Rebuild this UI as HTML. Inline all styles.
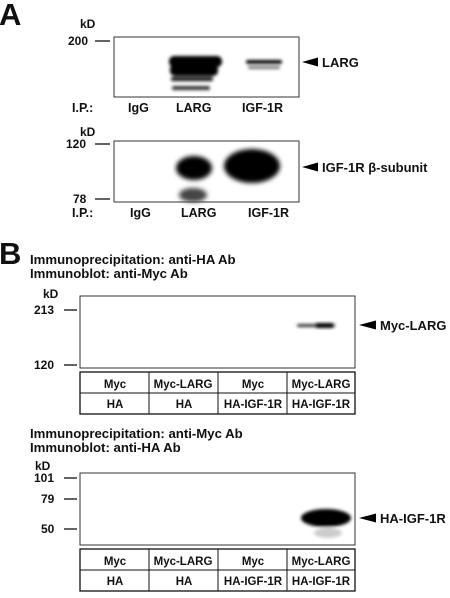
<!DOCTYPE html>
<html><head><meta charset="utf-8"><style>
body{margin:0;background:#fff;width:450px;height:593px;overflow:hidden}
svg text{font-family:"Liberation Sans",sans-serif;font-weight:bold;fill:#111}
</style></head><body>
<svg width="450" height="593" viewBox="0 0 450 593">
<defs>
<filter id="b1" x="-50%" y="-50%" width="200%" height="200%"><feGaussianBlur stdDeviation="1.5"/></filter>
<filter id="b2" x="-50%" y="-50%" width="200%" height="200%"><feGaussianBlur stdDeviation="2.5"/></filter>
</defs>
<text x="-1" y="25" font-size="31">A</text>
<g>
<text x="80" y="28" font-size="12">kD</text>
<text x="68" y="45" font-size="12">200</text>
<line x1="95" y1="41" x2="110" y2="41" stroke="#111" stroke-width="1.3"/>
<rect x="114" y="37" width="185" height="60" fill="#fff" stroke="#333" stroke-width="1"/>
<g filter="url(#b1)">
<rect x="169" y="56" width="53" height="11" rx="5" fill="#000"/>
<rect x="170" y="64" width="48" height="12" rx="5" fill="#000"/>
<rect x="171" y="77" width="42" height="4" rx="2" fill="#111"/>
<rect x="172" y="86" width="38" height="4" rx="2" fill="#333"/>
<rect x="246" y="60" width="36" height="4" rx="2" fill="#000"/>
<rect x="248" y="66" width="32" height="3" rx="1" fill="#777"/>
</g>
<polygon points="302,62 318,57.5 318,66.5" fill="#000"/>
<text x="322" y="67" font-size="13">LARG</text>
<text x="72" y="112" font-size="12.5">I.P.:</text>
<text x="128" y="112" font-size="12.5">IgG</text>
<text x="176" y="112" font-size="12.5">LARG</text>
<text x="242" y="112" font-size="12.5">IGF-1R</text>
</g>
<g>
<text x="80" y="136" font-size="12">kD</text>
<text x="66" y="148" font-size="12">120</text>
<line x1="95" y1="144" x2="110" y2="144" stroke="#111" stroke-width="1.3"/>
<text x="73" y="203" font-size="12">78</text>
<line x1="95" y1="199" x2="110" y2="199" stroke="#111" stroke-width="1.3"/>
<rect x="114" y="141" width="185" height="61" fill="#fff" stroke="#333" stroke-width="1"/>
<g filter="url(#b2)">
<ellipse cx="194" cy="168" rx="18" ry="12" fill="#000"/>
<ellipse cx="193" cy="195" rx="14" ry="7" fill="#444"/>
<ellipse cx="252" cy="166" rx="28" ry="17" fill="#000"/>
</g>
<polygon points="302,167 318,162.5 318,171.5" fill="#000"/>
<text x="322" y="172" font-size="13">IGF-1R β-subunit</text>
<text x="72" y="217" font-size="12.5">I.P.:</text>
<text x="130" y="217" font-size="12.5">IgG</text>
<text x="181" y="217" font-size="12.5">LARG</text>
<text x="248" y="217" font-size="12.5">IGF-1R</text>
</g>
<text x="-1" y="264" font-size="31">B</text>
<g>
<text x="30" y="264" font-size="13.2">Immunoprecipitation: anti-HA Ab</text>
<text x="30" y="278" font-size="13.2">Immunoblot: anti-Myc Ab</text>
<text x="43" y="298" font-size="12">kD</text>
<text x="34" y="314" font-size="12">213</text>
<line x1="64" y1="310" x2="77" y2="310" stroke="#111" stroke-width="1.3"/>
<text x="34" y="369" font-size="12">120</text>
<line x1="64" y1="365" x2="77" y2="365" stroke="#111" stroke-width="1.3"/>
<rect x="80" y="296" width="275" height="72" fill="#fff" stroke="#333" stroke-width="1"/>
<g filter="url(#b1)">
<rect x="297" y="324" width="38" height="3" rx="1.5" fill="#333"/>
<rect x="315" y="323" width="19" height="5" rx="2.5" fill="#000"/>
</g>
<polygon points="359,325 376,320.5 376,329.5" fill="#000"/>
<text x="380" y="330" font-size="13">Myc-LARG</text>
</g>
<g>
<rect x="80" y="372" width="275" height="42" fill="none" stroke="#111" stroke-width="1.3"/>
<line x1="80" y1="393" x2="355" y2="393" stroke="#111" stroke-width="1"/>
<line x1="149" y1="372" x2="149" y2="414" stroke="#111"/>
<line x1="218" y1="372" x2="218" y2="414" stroke="#111"/>
<line x1="287" y1="372" x2="287" y2="414" stroke="#111"/>
<text x="115" y="388" font-size="11.5" text-anchor="middle">Myc</text>
<text x="183" y="388" font-size="11.5" text-anchor="middle">Myc-LARG</text>
<text x="253" y="388" font-size="11.5" text-anchor="middle">Myc</text>
<text x="321" y="388" font-size="11.5" text-anchor="middle">Myc-LARG</text>
<text x="115" y="408" font-size="11.5" text-anchor="middle">HA</text>
<text x="184" y="408" font-size="11.5" text-anchor="middle">HA</text>
<text x="253" y="408" font-size="11.5" text-anchor="middle">HA-IGF-1R</text>
<text x="321" y="408" font-size="11.5" text-anchor="middle">HA-IGF-1R</text>
</g>
<g>
<text x="30" y="438" font-size="13.2">Immunoprecipitation: anti-Myc Ab</text>
<text x="30" y="452" font-size="13.2">Immunoblot: anti-HA Ab</text>
<text x="35" y="470" font-size="12">kD</text>
<text x="34" y="482" font-size="12">101</text>
<line x1="64" y1="478" x2="77" y2="478" stroke="#111" stroke-width="1.3"/>
<text x="41" y="503" font-size="12">79</text>
<line x1="64" y1="499" x2="77" y2="499" stroke="#111" stroke-width="1.3"/>
<text x="41" y="533" font-size="12">50</text>
<line x1="64" y1="529" x2="77" y2="529" stroke="#111" stroke-width="1.3"/>
<rect x="80" y="473" width="275" height="72" fill="#fff" stroke="#333" stroke-width="1"/>
<g filter="url(#b1)">
<ellipse cx="326" cy="518" rx="25" ry="9" fill="#000"/>
<ellipse cx="328" cy="533" rx="14" ry="5" fill="#ccc"/>
</g>
<polygon points="359,518 376,513.5 376,522.5" fill="#000"/>
<text x="380" y="523" font-size="13">HA-IGF-1R</text>
</g>
<g>
<rect x="80" y="549" width="275" height="42" fill="none" stroke="#111" stroke-width="1.3"/>
<line x1="80" y1="570" x2="355" y2="570" stroke="#111" stroke-width="1"/>
<line x1="149" y1="549" x2="149" y2="591" stroke="#111"/>
<line x1="218" y1="549" x2="218" y2="591" stroke="#111"/>
<line x1="287" y1="549" x2="287" y2="591" stroke="#111"/>
<text x="115" y="565" font-size="11.5" text-anchor="middle">Myc</text>
<text x="183" y="565" font-size="11.5" text-anchor="middle">Myc-LARG</text>
<text x="253" y="565" font-size="11.5" text-anchor="middle">Myc</text>
<text x="321" y="565" font-size="11.5" text-anchor="middle">Myc-LARG</text>
<text x="115" y="585" font-size="11.5" text-anchor="middle">HA</text>
<text x="184" y="585" font-size="11.5" text-anchor="middle">HA</text>
<text x="253" y="585" font-size="11.5" text-anchor="middle">HA-IGF-1R</text>
<text x="321" y="585" font-size="11.5" text-anchor="middle">HA-IGF-1R</text>
</g>
</svg>
</body></html>
